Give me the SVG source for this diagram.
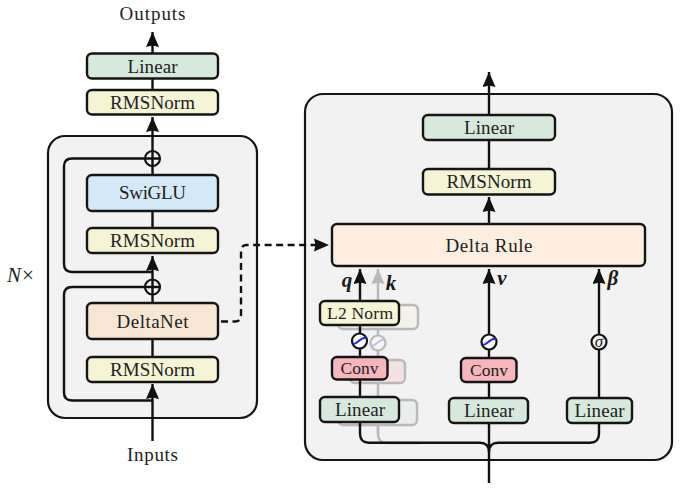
<svg xmlns="http://www.w3.org/2000/svg" width="680" height="498" viewBox="0 0 680 498">
<defs>
<style>
.outer{fill:#f2f2f3;stroke:#151515;stroke-width:2.2}
.box{stroke:#151515;stroke-width:2.4}
.lin{fill:#d6e9dc}.rms{fill:#f5f5d6}.swi{fill:#d4e9f7}.dn{fill:#f7e6d2}.dr{fill:#fdeee0}.conv{fill:#f6b6bb}
.w{fill:none;stroke:#111;stroke-width:2.4;stroke-linejoin:round}
.dash{stroke-dasharray:7 4.5}
.c{fill:#f4f4f5;stroke:#111;stroke-width:2.2}
.cw{fill:#fff;stroke:#111;stroke-width:2.2}
.curve{fill:none;stroke:#2a2ad0;stroke-width:2}
text{font-family:"Liberation Serif","Times New Roman",serif;font-size:19px;fill:#222;text-anchor:middle}
.s{font-size:17.500px}
.m{font-weight:bold;font-style:italic;font-size:21px;fill:#1a1a1a}
</style>
<marker id="a" markerUnits="userSpaceOnUse" viewBox="0 0 15 13" markerWidth="15" markerHeight="13" refX="15" refY="6.500" orient="auto"><path d="M0 0L15 6.500L0 13L1.500 6.500Z" fill="#111"/></marker>
</defs>
<g id="containers">
<rect class="outer" x="48" y="136" width="209" height="282" rx="17"/>
<rect class="outer" x="305" y="94" width="367" height="366" rx="18"/>
</g>
<g id="ghost" opacity="0.25">
<path class="w" d="M378 434V269" marker-end="url(#a)"/>
<path class="w" d="M378 415V434Q378 443 387 443H420"/>
<rect class="box rms" x="338" y="305" width="80" height="24" rx="5"/>
<rect class="box conv" x="350" y="360" width="55" height="23" rx="5"/>
<rect class="box lin" x="338" y="400" width="79" height="25" rx="5"/>
<circle class="cw" cx="378" cy="343" r="7.5"/>
<path class="curve" d="M371.500 346C376 346 377 340 384.500 339.500"/>
</g>
<g id="connectors">
<path class="w" d="M152.500 53V32" marker-end="url(#a)"/>
<path class="w" d="M152.500 78V90"/>
<path class="w" d="M152.500 175V117" marker-end="url(#a)"/>
<path class="w" d="M152.500 211V228"/>
<path class="w" d="M152.500 303V256" marker-end="url(#a)"/>
<path class="w" d="M152.500 339V357"/>
<path class="w" d="M152.500 441V384" marker-end="url(#a)"/>
<path class="w" d="M152.500 158.500H72Q64 158.500 64 166.500V264Q64 272 72 272H152.500"/>
<path class="w" d="M152.500 287H72Q64 287 64 295V392.500Q64 400.500 72 400.500H152.500"/>
<path class="w dash" d="M221 321.500H235Q241 321.500 241 315V251Q241 245 247 245H318"/>
<path d="M314 238.500L329 245L314 251.500L315.500 245Z" fill="#111"/>
<path class="w" d="M489 115V72" marker-end="url(#a)"/>
<path class="w" d="M489 140V169"/>
<path class="w" d="M489 224V197" marker-end="url(#a)"/>
<path class="w" d="M360 397V269" marker-end="url(#a)"/>
<path class="w" d="M489 398V269" marker-end="url(#a)"/>
<path class="w" d="M599 398V269" marker-end="url(#a)"/>
<path class="w" d="M360 421V433.500Q360 442.700 369 442.700H480Q489 442.700 489 452V483"/>
<path class="w" d="M599 422V433.500Q599 442.700 590 442.700H498Q489 442.700 489 452"/>
<path class="w" d="M489 422V452"/>
</g>
<g id="outputs-label"><text x="152.500" y="20" textLength="66">Outputs</text></g>
<g id="inputs-label"><text x="152.500" y="461" textLength="51">Inputs</text></g>
<g id="n-times"><text x="21" y="282" textLength="28" style="font-style:italic;font-size:21px">N×</text></g>
<g id="linear-out"><rect class="box lin" x="87" y="53.500" width="131" height="25" rx="5"/><text x="152.500" y="72.500" textLength="50">Linear</text></g>
<g id="rmsnorm-out"><rect class="box rms" x="87" y="90" width="131" height="24.500" rx="5"/><text x="152.500" y="109" textLength="85">RMSNorm</text></g>
<g id="add-top"><circle class="c" cx="152.500" cy="158.500" r="7.500"/><path class="w" d="M145 158.500H160M152.500 151V166"/></g>
<g id="swiglu"><rect class="box swi" x="87" y="175" width="131" height="36" rx="5"/><text x="152.500" y="199" textLength="67">SwiGLU</text></g>
<g id="rmsnorm-mid"><rect class="box rms" x="87" y="228" width="131" height="25" rx="5"/><text x="152.500" y="246.500" textLength="85">RMSNorm</text></g>
<g id="add-bottom"><circle class="c" cx="152.500" cy="287" r="7.500"/><path class="w" d="M145 287H160M152.500 279.500V294.500"/></g>
<g id="deltanet"><rect class="box dn" x="87" y="303" width="131" height="36" rx="5"/><text x="152.500" y="328" textLength="72">DeltaNet</text></g>
<g id="rmsnorm-in"><rect class="box rms" x="87" y="357" width="131" height="25" rx="5"/><text x="152.500" y="375.500" textLength="85">RMSNorm</text></g>
<g id="linear-r"><rect class="box lin" x="423" y="115" width="132" height="25" rx="5"/><text x="489" y="134" textLength="50">Linear</text></g>
<g id="rmsnorm-r"><rect class="box rms" x="423" y="169" width="132" height="25.500" rx="5"/><text x="489" y="188" textLength="85">RMSNorm</text></g>
<g id="delta-rule"><rect class="box dr" x="332" y="224" width="313" height="42" rx="5"/><text x="489" y="252" textLength="87">Delta Rule</text></g>
<g id="l2norm"><rect class="box rms" x="320" y="301" width="79" height="24" rx="5"/><text class="s" x="360" y="319" textLength="66">L2 Norm</text></g>
<g id="act-q"><circle class="cw" cx="359.500" cy="341" r="7.500"/><path class="curve" d="M353 344C358 344 358.500 338 366.500 337.500"/></g>
<g id="conv-q"><rect class="box conv" x="332" y="357" width="55.500" height="22.500" rx="5"/><text class="s" x="359.500" y="374" textLength="38">Conv</text></g>
<g id="linear-q"><rect class="box lin" x="320" y="397" width="79" height="25" rx="5"/><text x="360" y="416" textLength="50">Linear</text></g>
<g id="act-v"><circle class="cw" cx="489" cy="342" r="7.500"/><path class="curve" d="M482.500 345C487.500 345 488 339 496 338.500"/></g>
<g id="conv-v"><rect class="box conv" x="461" y="358" width="55.500" height="24" rx="5"/><text class="s" x="489" y="376" textLength="38">Conv</text></g>
<g id="linear-v"><rect class="box lin" x="449" y="398" width="79" height="25" rx="5"/><text x="489" y="417" textLength="50">Linear</text></g>
<g id="act-b"><circle class="c" cx="599" cy="342" r="7.500"/><text x="599" y="347" style="font-style:italic;font-size:17px">σ</text></g>
<g id="linear-b"><rect class="box lin" x="567" y="398" width="65" height="25" rx="5"/><text x="599.500" y="417" textLength="50">Linear</text></g>
<g id="labels">
<text class="m" x="347" y="287">q</text>
<text x="391" y="290" class="m">k</text>
<text x="502" y="285" class="m">v</text>
<text x="613" y="285" class="m">β</text>
</g>
</svg>
